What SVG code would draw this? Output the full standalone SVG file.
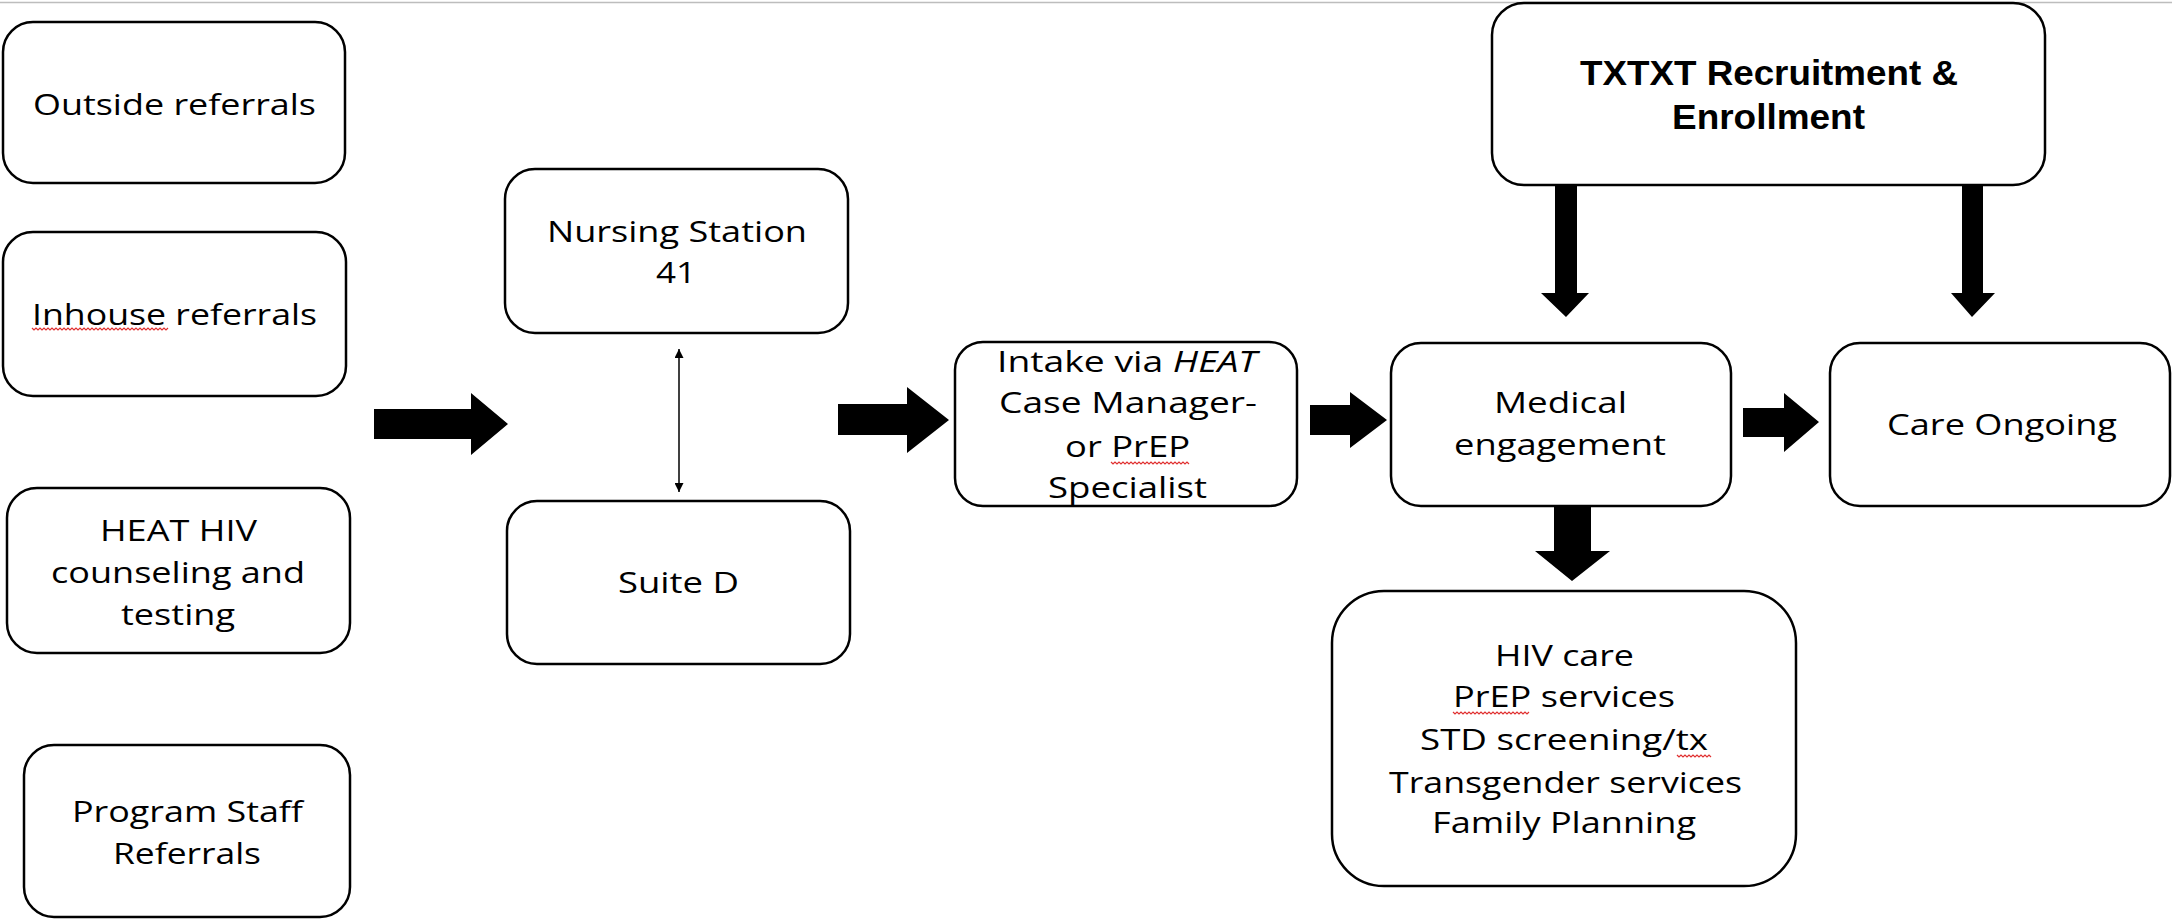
<svg xmlns="http://www.w3.org/2000/svg" width="2172" height="919" viewBox="0 0 2172 919">
<defs>
<style>
.box{fill:#fff;stroke:#000;stroke-width:2.5}
.t{font-family:"Open Sans","DejaVu Sans",sans-serif;font-size:30px;fill:#000;text-anchor:middle}
.b{font-family:"Liberation Sans",Arial,sans-serif;font-size:35px;font-weight:bold;fill:#000;text-anchor:middle}
.arr{fill:#000}
.sq{fill:none;stroke:#e03030;stroke-width:1.2}
</style>
<marker id="ah" viewBox="0 0 10 10" refX="10" refY="5" markerWidth="9" markerHeight="9" markerUnits="userSpaceOnUse" orient="auto-start-reverse">
<path d="M0,0 L10,5 L0,10 z" fill="#000"/>
</marker>
</defs>
<rect width="2172" height="919" fill="#fff"/>
<line x1="0" y1="2.5" x2="2172" y2="2.5" stroke="#bdbdbd" stroke-width="1.5"/>

<g id="outside">
<rect class="box" x="3" y="22" width="342" height="161" rx="30"/>
<text class="t" x="174.5" y="115" textLength="283" lengthAdjust="spacingAndGlyphs">Outside referrals</text>
</g>
<g id="inhouse">
<rect class="box" x="3" y="232" width="343" height="164" rx="30"/>
<text class="t" x="174.5" y="325" textLength="285" lengthAdjust="spacingAndGlyphs">Inhouse referrals</text>
<polyline class="sq" points="32,328 34,330 36,328 38,330 40,328 42,330 44,328 46,330 48,328 50,330 52,328 54,330 56,328 58,330 60,328 62,330 64,328 66,330 68,328 70,330 72,328 74,330 76,328 78,330 80,328 82,330 84,328 86,330 88,328 90,330 92,328 94,330 96,328 98,330 100,328 102,330 104,328 106,330 108,328 110,330 112,328 114,330 116,328 118,330 120,328 122,330 124,328 126,330 128,328 130,330 132,328 134,330 136,328 138,330 140,328 142,330 144,328 146,330 148,328 150,330 152,328 154,330 156,328 158,330 160,328 162,330 164,328 166,330 168,328"/>
</g>
<g id="heat">
<rect class="box" x="7" y="488" width="343" height="165" rx="30"/>
<text class="t" x="178.5" y="541" textLength="157" lengthAdjust="spacingAndGlyphs">HEAT HIV</text>
<text class="t" x="178" y="583" textLength="254" lengthAdjust="spacingAndGlyphs">counseling and</text>
<text class="t" x="178" y="625" textLength="114" lengthAdjust="spacingAndGlyphs">testing</text>
</g>
<g id="program">
<rect class="box" x="24" y="745" width="326" height="172" rx="30"/>
<text class="t" x="187.5" y="822" textLength="231" lengthAdjust="spacingAndGlyphs">Program Staff</text>
<text class="t" x="187" y="864" textLength="148" lengthAdjust="spacingAndGlyphs">Referrals</text>
</g>
<g id="nursing">
<rect class="box" x="505" y="169" width="343" height="164" rx="30"/>
<text class="t" x="677" y="242" textLength="260" lengthAdjust="spacingAndGlyphs">Nursing Station</text>
<text class="t" x="676" y="283" textLength="40" lengthAdjust="spacingAndGlyphs">41</text>
</g>
<g id="suite">
<rect class="box" x="507" y="501" width="343" height="163" rx="30"/>
<text class="t" x="678.5" y="593" textLength="121" lengthAdjust="spacingAndGlyphs">Suite D</text>
</g>
<g id="intake">
<rect class="box" x="955" y="342" width="342" height="164" rx="28"/>
<text class="t" x="1127" y="372" textLength="260" lengthAdjust="spacingAndGlyphs">Intake via <tspan font-style="italic">HEAT</tspan></text>
<text class="t" x="1128" y="413" textLength="258" lengthAdjust="spacingAndGlyphs">Case Manager-</text>
<text class="t" x="1127.5" y="457" textLength="125" lengthAdjust="spacingAndGlyphs">or PrEP</text>
<text class="t" x="1127.5" y="498" textLength="159" lengthAdjust="spacingAndGlyphs">Specialist</text>
<polyline class="sq" points="1111,462 1113,464 1115,462 1117,464 1119,462 1121,464 1123,462 1125,464 1127,462 1129,464 1131,462 1133,464 1135,462 1137,464 1139,462 1141,464 1143,462 1145,464 1147,462 1149,464 1151,462 1153,464 1155,462 1157,464 1159,462 1161,464 1163,462 1165,464 1167,462 1169,464 1171,462 1173,464 1175,462 1177,464 1179,462 1181,464 1183,462 1185,464 1187,462 1189,464"/>
</g>
<g id="medical">
<rect class="box" x="1391" y="343" width="340" height="163" rx="30"/>
<text class="t" x="1560.5" y="413" textLength="133" lengthAdjust="spacingAndGlyphs">Medical</text>
<text class="t" x="1560" y="455" textLength="212" lengthAdjust="spacingAndGlyphs">engagement</text>
</g>
<g id="care">
<rect class="box" x="1830" y="343" width="340" height="163" rx="30"/>
<text class="t" x="2002" y="435" textLength="230" lengthAdjust="spacingAndGlyphs">Care Ongoing</text>
</g>
<g id="txtxt">
<rect class="box" x="1492" y="3" width="553" height="182" rx="32" stroke-width="4"/>
<text class="b" x="1769" y="85" textLength="378" lengthAdjust="spacingAndGlyphs">TXTXT Recruitment &amp;</text>
<text class="b" x="1768.5" y="129" textLength="193" lengthAdjust="spacingAndGlyphs">Enrollment</text>
</g>
<g id="services">
<rect class="box" x="1332" y="591" width="464" height="295" rx="52"/>
<text class="t" x="1564.5" y="666" textLength="139" lengthAdjust="spacingAndGlyphs">HIV care</text>
<text class="t" x="1564" y="707" textLength="222" lengthAdjust="spacingAndGlyphs">PrEP services</text>
<text class="t" x="1564" y="750" textLength="288" lengthAdjust="spacingAndGlyphs">STD screening/tx</text>
<text class="t" x="1565.5" y="793" textLength="353" lengthAdjust="spacingAndGlyphs">Transgender services</text>
<text class="t" x="1564" y="833" textLength="264" lengthAdjust="spacingAndGlyphs">Family Planning</text>
<polyline class="sq" points="1453,712 1455,714 1457,712 1459,714 1461,712 1463,714 1465,712 1467,714 1469,712 1471,714 1473,712 1475,714 1477,712 1479,714 1481,712 1483,714 1485,712 1487,714 1489,712 1491,714 1493,712 1495,714 1497,712 1499,714 1501,712 1503,714 1505,712 1507,714 1509,712 1511,714 1513,712 1515,714 1517,712 1519,714 1521,712 1523,714 1525,712 1527,714 1529,712"/>
<polyline class="sq" points="1677,755 1679,757 1681,755 1683,757 1685,755 1687,757 1689,755 1691,757 1693,755 1695,757 1697,755 1699,757 1701,755 1703,757 1705,755 1707,757 1709,755 1711,757"/>
</g>

<g id="connectors">
<polygon class="arr" points="374,409 471,409 471,393 508,424 471,455 471,439 374,439"/>
<line x1="679" y1="349" x2="679" y2="492" stroke="#000" stroke-width="1.5" marker-start="url(#ah)" marker-end="url(#ah)"/>
<polygon class="arr" points="838,404 907,404 907,387 949,420 907,453 907,435 838,435"/>
<polygon class="arr" points="1310,405 1350,405 1350,392 1387,420 1350,448 1350,435 1310,435"/>
<polygon class="arr" points="1743,408 1784,408 1784,393 1819,422 1784,452 1784,437 1743,437"/>
<polygon class="arr" points="1555,186 1577,186 1577,293 1589,293 1566,317 1541,293 1555,293"/>
<polygon class="arr" points="1962,186 1983,186 1983,293 1995,293 1972,317 1951,293 1962,293"/>
<polygon class="arr" points="1554,507 1591,507 1591,551 1610,551 1572,581 1535,551 1554,551"/>
</g>
</svg>
